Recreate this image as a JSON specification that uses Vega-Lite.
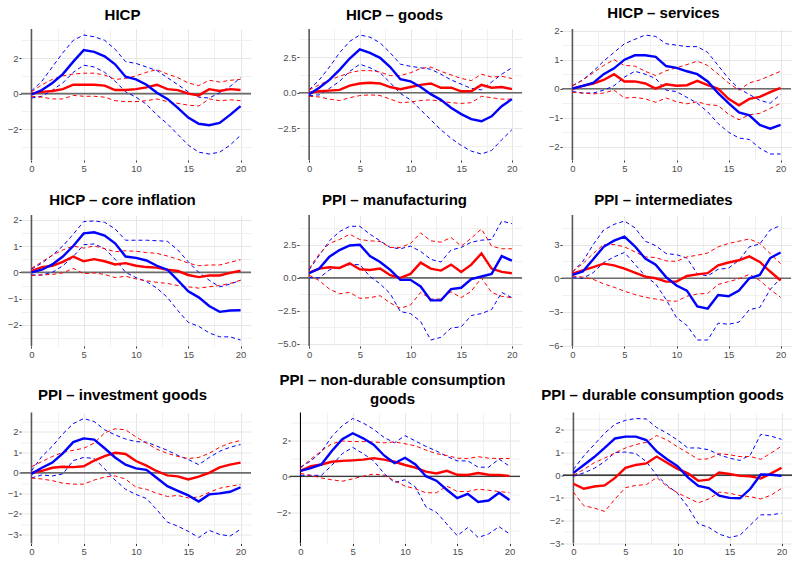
{
"$schema": "https://vega.github.io/schema/vega-lite/v6.json",
"background": "white",
"padding": {"left": 7, "right": 3, "top": 5, "bottom": 2},
"data": {"values": [
{"p":1,"h":0,"b":-0.05,"bl":-0.25,"bu":0.15,"r":0,"rl":-0.15,"ru":0.1},
{"p":1,"h":1,"b":0.2,"bl":-0.15,"bu":0.7,"r":0.1,"rl":-0.2,"ru":0.5},
{"p":1,"h":2,"b":0.6,"bl":0.2,"bu":1.5,"r":0.15,"rl":-0.3,"ru":0.8},
{"p":1,"h":3,"b":1.1,"bl":0.6,"bu":2.3,"r":0.25,"rl":-0.3,"ru":1.0},
{"p":1,"h":4,"b":1.8,"bl":1.2,"bu":3.0,"r":0.5,"rl":-0.1,"ru":1.1},
{"p":1,"h":5,"b":2.45,"bl":1.6,"bu":3.3,"r":0.5,"rl":-0.15,"ru":1.15},
{"p":1,"h":6,"b":2.35,"bl":1.5,"bu":3.2,"r":0.5,"rl":-0.15,"ru":1.15},
{"p":1,"h":7,"b":2.1,"bl":1.2,"bu":3.0,"r":0.45,"rl":-0.2,"ru":1.05},
{"p":1,"h":8,"b":1.65,"bl":0.7,"bu":2.5,"r":0.2,"rl":-0.4,"ru":0.8},
{"p":1,"h":9,"b":0.95,"bl":0.1,"bu":1.8,"r":0.2,"rl":-0.45,"ru":0.85},
{"p":1,"h":10,"b":0.8,"bl":-0.2,"bu":1.7,"r":0.25,"rl":-0.45,"ru":1.0},
{"p":1,"h":11,"b":0.5,"bl":-0.6,"bu":1.5,"r":0.35,"rl":-0.4,"ru":1.2},
{"p":1,"h":12,"b":0.05,"bl":-1.2,"bu":1.3,"r":0.5,"rl":-0.3,"ru":1.35},
{"p":1,"h":13,"b":-0.3,"bl":-1.7,"bu":0.9,"r":0.25,"rl":-0.45,"ru":1.1},
{"p":1,"h":14,"b":-0.8,"bl":-2.3,"bu":0.5,"r":0.2,"rl":-0.55,"ru":0.9},
{"p":1,"h":15,"b":-1.35,"bl":-2.9,"bu":0.1,"r":0.0,"rl":-0.65,"ru":0.6},
{"p":1,"h":16,"b":-1.7,"bl":-3.3,"bu":-0.2,"r":-0.1,"rl":-0.7,"ru":0.45},
{"p":1,"h":17,"b":-1.78,"bl":-3.4,"bu":-0.25,"r":0.25,"rl":-0.3,"ru":0.75},
{"p":1,"h":18,"b":-1.65,"bl":-3.3,"bu":0.05,"r":0.15,"rl":-0.4,"ru":0.65},
{"p":1,"h":19,"b":-1.2,"bl":-2.9,"bu":0.4,"r":0.25,"rl":-0.35,"ru":0.75},
{"p":1,"h":20,"b":-0.7,"bl":-2.35,"bu":0.9,"r":0.2,"rl":-0.4,"ru":0.8},
{"p":2,"h":0,"b":-0.1,"bl":-0.2,"bu":0.2,"r":0,"rl":-0.25,"ru":0.2},
{"p":2,"h":1,"b":0.35,"bl":-0.15,"bu":0.9,"r":0.1,"rl":-0.3,"ru":0.55},
{"p":2,"h":2,"b":0.9,"bl":0.3,"bu":1.8,"r":0.15,"rl":-0.45,"ru":0.9},
{"p":2,"h":3,"b":1.6,"bl":0.8,"bu":2.8,"r":0.2,"rl":-0.55,"ru":1.15},
{"p":2,"h":4,"b":2.4,"bl":1.5,"bu":3.6,"r":0.5,"rl":-0.35,"ru":1.4},
{"p":2,"h":5,"b":3.05,"bl":2.0,"bu":4.05,"r":0.65,"rl":-0.2,"ru":1.55},
{"p":2,"h":6,"b":2.8,"bl":1.75,"bu":3.9,"r":0.7,"rl":-0.15,"ru":1.55},
{"p":2,"h":7,"b":2.45,"bl":1.4,"bu":3.5,"r":0.65,"rl":-0.2,"ru":1.45},
{"p":2,"h":8,"b":1.8,"bl":0.7,"bu":2.8,"r":0.4,"rl":-0.45,"ru":1.2},
{"p":2,"h":9,"b":0.95,"bl":-0.05,"bu":2.0,"r":0.25,"rl":-0.7,"ru":1.2},
{"p":2,"h":10,"b":0.8,"bl":-0.5,"bu":1.85,"r":0.4,"rl":-0.65,"ru":1.4},
{"p":2,"h":11,"b":0.4,"bl":-1.2,"bu":1.75,"r":0.55,"rl":-0.55,"ru":1.7},
{"p":2,"h":12,"b":-0.1,"bl":-1.9,"bu":1.65,"r":0.65,"rl":-0.5,"ru":1.8},
{"p":2,"h":13,"b":-0.5,"bl":-2.6,"bu":1.3,"r":0.35,"rl":-0.6,"ru":1.5},
{"p":2,"h":14,"b":-1.05,"bl":-3.2,"bu":0.9,"r":0.35,"rl":-0.7,"ru":1.25},
{"p":2,"h":15,"b":-1.5,"bl":-3.7,"bu":0.6,"r":0.1,"rl":-0.75,"ru":1.0},
{"p":2,"h":16,"b":-1.85,"bl":-4.1,"bu":0.3,"r":0.1,"rl":-0.7,"ru":0.85},
{"p":2,"h":17,"b":-2.0,"bl":-4.3,"bu":0.2,"r":0.55,"rl":-0.25,"ru":1.3},
{"p":2,"h":18,"b":-1.65,"bl":-4.05,"bu":0.75,"r":0.35,"rl":-0.35,"ru":1.1},
{"p":2,"h":19,"b":-0.95,"bl":-3.3,"bu":1.3,"r":0.4,"rl":-0.45,"ru":1.15},
{"p":2,"h":20,"b":-0.45,"bl":-2.6,"bu":1.75,"r":0.25,"rl":-0.45,"ru":1.0},
{"p":3,"h":0,"b":0,"bl":-0.1,"bu":0.1,"r":0,"rl":-0.12,"ru":0.1},
{"p":3,"h":1,"b":0.1,"bl":-0.15,"bu":0.3,"r":0.1,"rl":-0.15,"ru":0.3},
{"p":3,"h":2,"b":0.2,"bl":-0.15,"bu":0.6,"r":0.18,"rl":-0.18,"ru":0.55},
{"p":3,"h":3,"b":0.5,"bl":-0.05,"bu":0.95,"r":0.3,"rl":-0.15,"ru":0.8},
{"p":3,"h":4,"b":0.7,"bl":0.1,"bu":1.25,"r":0.5,"rl":-0.05,"ru":1.0},
{"p":3,"h":5,"b":1.0,"bl":0.4,"bu":1.55,"r":0.25,"rl":-0.32,"ru":0.8},
{"p":3,"h":6,"b":1.15,"bl":0.6,"bu":1.7,"r":0.25,"rl":-0.3,"ru":0.78},
{"p":3,"h":7,"b":1.15,"bl":0.5,"bu":1.85,"r":0.18,"rl":-0.35,"ru":0.6},
{"p":3,"h":8,"b":1.1,"bl":0.35,"bu":1.8,"r":0.0,"rl":-0.47,"ru":0.45},
{"p":3,"h":9,"b":0.78,"bl":-0.05,"bu":1.55,"r":0.15,"rl":-0.32,"ru":0.62},
{"p":3,"h":10,"b":0.72,"bl":-0.1,"bu":1.5,"r":0.1,"rl":-0.45,"ru":0.72},
{"p":3,"h":11,"b":0.6,"bl":-0.3,"bu":1.45,"r":0.12,"rl":-0.52,"ru":0.83},
{"p":3,"h":12,"b":0.5,"bl":-0.5,"bu":1.45,"r":0.27,"rl":-0.45,"ru":0.95},
{"p":3,"h":13,"b":0.25,"bl":-0.8,"bu":1.25,"r":0.12,"rl":-0.55,"ru":0.8},
{"p":3,"h":14,"b":-0.15,"bl":-1.2,"bu":0.8,"r":0.0,"rl":-0.58,"ru":0.5},
{"p":3,"h":15,"b":-0.5,"bl":-1.5,"bu":0.35,"r":-0.35,"rl":-0.88,"ru":0.2},
{"p":3,"h":16,"b":-0.82,"bl":-1.7,"bu":0.0,"r":-0.57,"rl":-1.07,"ru":-0.05},
{"p":3,"h":17,"b":-0.92,"bl":-1.75,"bu":-0.2,"r":-0.35,"rl":-0.9,"ru":0.2},
{"p":3,"h":18,"b":-1.25,"bl":-2.05,"bu":-0.4,"r":-0.28,"rl":-0.85,"ru":0.3},
{"p":3,"h":19,"b":-1.38,"bl":-2.25,"bu":-0.5,"r":-0.12,"rl":-0.68,"ru":0.45},
{"p":3,"h":20,"b":-1.25,"bl":-2.25,"bu":-0.2,"r":0.03,"rl":-0.5,"ru":0.6},
{"p":4,"h":0,"b":0,"bl":-0.1,"bu":0.12,"r":0.05,"rl":-0.12,"ru":0.15},
{"p":4,"h":1,"b":0.1,"bl":-0.1,"bu":0.35,"r":0.2,"rl":-0.1,"ru":0.4},
{"p":4,"h":2,"b":0.3,"bl":0.0,"bu":0.65,"r":0.25,"rl":-0.08,"ru":0.65},
{"p":4,"h":3,"b":0.6,"bl":0.25,"bu":1.0,"r":0.4,"rl":-0.02,"ru":0.85},
{"p":4,"h":4,"b":1.0,"bl":0.6,"bu":1.45,"r":0.6,"rl":0.15,"ru":1.0},
{"p":4,"h":5,"b":1.48,"bl":1.05,"bu":1.93,"r":0.42,"rl":-0.05,"ru":0.92},
{"p":4,"h":6,"b":1.52,"bl":1.08,"bu":1.95,"r":0.5,"rl":-0.02,"ru":1.0},
{"p":4,"h":7,"b":1.4,"bl":0.9,"bu":1.9,"r":0.42,"rl":-0.08,"ru":0.9},
{"p":4,"h":8,"b":1.1,"bl":0.5,"bu":1.65,"r":0.3,"rl":-0.2,"ru":0.78},
{"p":4,"h":9,"b":0.6,"bl":0.0,"bu":1.22,"r":0.35,"rl":-0.15,"ru":0.82},
{"p":4,"h":10,"b":0.55,"bl":-0.2,"bu":1.22,"r":0.25,"rl":-0.25,"ru":0.8},
{"p":4,"h":11,"b":0.45,"bl":-0.35,"bu":1.22,"r":0.2,"rl":-0.32,"ru":0.75},
{"p":4,"h":12,"b":0.25,"bl":-0.6,"bu":1.2,"r":0.18,"rl":-0.38,"ru":0.72},
{"p":4,"h":13,"b":0.1,"bl":-0.95,"bu":1.18,"r":0.1,"rl":-0.42,"ru":0.62},
{"p":4,"h":14,"b":-0.3,"bl":-1.45,"bu":0.85,"r":0.05,"rl":-0.5,"ru":0.5},
{"p":4,"h":15,"b":-0.72,"bl":-1.9,"bu":0.4,"r":-0.1,"rl":-0.55,"ru":0.35},
{"p":4,"h":16,"b":-0.95,"bl":-2.05,"bu":0.0,"r":-0.18,"rl":-0.6,"ru":0.25},
{"p":4,"h":17,"b":-1.28,"bl":-2.3,"bu":-0.3,"r":-0.12,"rl":-0.55,"ru":0.28},
{"p":4,"h":18,"b":-1.5,"bl":-2.45,"bu":-0.55,"r":-0.12,"rl":-0.5,"ru":0.28},
{"p":4,"h":19,"b":-1.45,"bl":-2.45,"bu":-0.45,"r":-0.02,"rl":-0.42,"ru":0.38},
{"p":4,"h":20,"b":-1.44,"bl":-2.57,"bu":-0.3,"r":0.06,"rl":-0.3,"ru":0.48},
{"p":5,"h":0,"b":0.35,"bl":0.0,"bu":0.6,"r":0.4,"rl":0.2,"ru":0.7},
{"p":5,"h":1,"b":0.7,"bl":0.0,"bu":1.7,"r":0.7,"rl":-0.2,"ru":1.8},
{"p":5,"h":2,"b":1.6,"bl":0.6,"bu":2.8,"r":0.8,"rl":-0.85,"ru":2.6},
{"p":5,"h":3,"b":2.1,"bl":0.8,"bu":3.5,"r":0.75,"rl":-1.2,"ru":2.9},
{"p":5,"h":4,"b":2.45,"bl":1.0,"bu":3.9,"r":1.1,"rl":-1.1,"ru":3.3},
{"p":5,"h":5,"b":2.5,"bl":1.0,"bu":3.9,"r":0.65,"rl":-1.55,"ru":2.9},
{"p":5,"h":6,"b":1.65,"bl":0.1,"bu":3.3,"r":0.6,"rl":-1.5,"ru":2.8},
{"p":5,"h":7,"b":1.2,"bl":-0.45,"bu":2.8,"r":0.7,"rl":-1.35,"ru":2.75},
{"p":5,"h":8,"b":0.6,"bl":-1.2,"bu":2.3,"r":0.2,"rl":-1.9,"ru":2.3},
{"p":5,"h":9,"b":-0.15,"bl":-2.55,"bu":2.2,"r":0.0,"rl":-2.3,"ru":2.3},
{"p":5,"h":10,"b":-0.15,"bl":-2.7,"bu":2.4,"r":0.3,"rl":-2.05,"ru":2.6},
{"p":5,"h":11,"b":-0.65,"bl":-3.3,"bu":2.0,"r":1.15,"rl":-1.1,"ru":3.4},
{"p":5,"h":12,"b":-1.7,"bl":-4.7,"bu":1.4,"r":0.7,"rl":-1.6,"ru":2.8},
{"p":5,"h":13,"b":-1.7,"bl":-4.5,"bu":1.2,"r":0.55,"rl":-1.6,"ru":2.7},
{"p":5,"h":14,"b":-0.85,"bl":-3.8,"bu":2.1,"r":1.0,"rl":-1.05,"ru":3.05},
{"p":5,"h":15,"b":-0.75,"bl":-3.7,"bu":2.3,"r":0.45,"rl":-1.5,"ru":2.4},
{"p":5,"h":16,"b":-0.1,"bl":-2.85,"bu":2.7,"r":1.0,"rl":-1.0,"ru":3.0},
{"p":5,"h":17,"b":0.1,"bl":-2.7,"bu":2.85,"r":1.85,"rl":0.0,"ru":3.7},
{"p":5,"h":18,"b":0.3,"bl":-2.4,"bu":2.9,"r":0.7,"rl":-1.1,"ru":2.4},
{"p":5,"h":19,"b":1.65,"bl":-1.1,"bu":4.3,"r":0.45,"rl":-1.4,"ru":2.2},
{"p":5,"h":20,"b":1.3,"bl":-1.5,"bu":4.1,"r":0.35,"rl":-1.5,"ru":2.2},
{"p":6,"h":0,"b":0.3,"bl":0.05,"bu":0.55,"r":0.4,"rl":0.2,"ru":0.6},
{"p":6,"h":1,"b":0.6,"bl":0.0,"bu":1.5,"r":0.7,"rl":0.1,"ru":1.3},
{"p":6,"h":2,"b":1.7,"bl":0.5,"bu":3.0,"r":1.0,"rl":-0.1,"ru":2.2},
{"p":6,"h":3,"b":2.8,"bl":1.4,"bu":4.3,"r":1.3,"rl":-0.5,"ru":3.0},
{"p":6,"h":4,"b":3.35,"bl":1.9,"bu":4.8,"r":1.15,"rl":-0.8,"ru":3.0},
{"p":6,"h":5,"b":3.7,"bl":2.3,"bu":5.1,"r":0.85,"rl":-1.15,"ru":2.8},
{"p":6,"h":6,"b":2.85,"bl":1.25,"bu":4.5,"r":0.5,"rl":-1.45,"ru":2.35},
{"p":6,"h":7,"b":1.75,"bl":0.2,"bu":3.3,"r":0.15,"rl":-1.7,"ru":1.9},
{"p":6,"h":8,"b":1.2,"bl":-0.5,"bu":2.9,"r":0.0,"rl":-1.85,"ru":1.85},
{"p":6,"h":9,"b":0.1,"bl":-1.9,"bu":2.2,"r":-0.3,"rl":-2.0,"ru":1.55},
{"p":6,"h":10,"b":-0.65,"bl":-3.5,"bu":2.1,"r":-0.3,"rl":-2.05,"ru":1.5},
{"p":6,"h":11,"b":-1.1,"bl":-4.2,"bu":1.8,"r":0.2,"rl":-1.6,"ru":1.9},
{"p":6,"h":12,"b":-2.5,"bl":-5.5,"bu":0.4,"r":0.35,"rl":-1.4,"ru":2.05},
{"p":6,"h":13,"b":-2.7,"bl":-5.5,"bu":0.2,"r":0.45,"rl":-1.35,"ru":2.25},
{"p":6,"h":14,"b":-1.5,"bl":-4.0,"bu":0.8,"r":1.15,"rl":-0.55,"ru":2.8},
{"p":6,"h":15,"b":-1.6,"bl":-4.1,"bu":0.9,"r":1.4,"rl":-0.3,"ru":3.1},
{"p":6,"h":16,"b":-1.1,"bl":-3.9,"bu":1.6,"r":1.6,"rl":-0.05,"ru":3.3},
{"p":6,"h":17,"b":0.0,"bl":-2.8,"bu":2.8,"r":1.95,"rl":0.35,"ru":3.5},
{"p":6,"h":18,"b":0.3,"bl":-2.6,"bu":3.05,"r":1.45,"rl":-0.2,"ru":3.1},
{"p":6,"h":19,"b":1.8,"bl":-1.0,"bu":4.3,"r":0.6,"rl":-1.0,"ru":2.2},
{"p":6,"h":20,"b":2.3,"bl":0.0,"bu":4.7,"r":-0.2,"rl":-1.7,"ru":1.3},
{"p":7,"h":0,"b":-0.05,"bl":-0.25,"bu":0.1,"r":0.0,"rl":-0.25,"ru":0.3},
{"p":7,"h":1,"b":0.25,"bl":-0.1,"bu":0.8,"r":0.1,"rl":-0.3,"ru":0.55},
{"p":7,"h":2,"b":0.5,"bl":-0.15,"bu":1.3,"r":0.25,"rl":-0.38,"ru":0.8},
{"p":7,"h":3,"b":0.95,"bl":-0.05,"bu":1.9,"r":0.3,"rl":-0.5,"ru":1.0},
{"p":7,"h":4,"b":1.5,"bl":0.6,"bu":2.4,"r":0.28,"rl":-0.55,"ru":1.1},
{"p":7,"h":5,"b":1.68,"bl":0.75,"bu":2.65,"r":0.32,"rl":-0.55,"ru":1.2},
{"p":7,"h":6,"b":1.62,"bl":0.7,"bu":2.5,"r":0.6,"rl":-0.35,"ru":1.45},
{"p":7,"h":7,"b":1.2,"bl":0.2,"bu":2.1,"r":0.82,"rl":-0.2,"ru":1.95},
{"p":7,"h":8,"b":0.75,"bl":-0.35,"bu":1.85,"r":0.98,"rl":-0.15,"ru":2.15},
{"p":7,"h":9,"b":0.4,"bl":-0.8,"bu":1.65,"r":0.92,"rl":-0.3,"ru":2.1},
{"p":7,"h":10,"b":0.22,"bl":-1.05,"bu":1.52,"r":0.58,"rl":-0.7,"ru":1.75},
{"p":7,"h":11,"b":0.15,"bl":-1.25,"bu":1.5,"r":0.35,"rl":-0.8,"ru":1.45},
{"p":7,"h":12,"b":-0.25,"bl":-1.8,"bu":1.3,"r":0.08,"rl":-1.0,"ru":1.15},
{"p":7,"h":13,"b":-0.65,"bl":-2.4,"bu":1.1,"r":-0.12,"rl":-1.15,"ru":0.95},
{"p":7,"h":14,"b":-0.88,"bl":-2.6,"bu":0.85,"r":-0.17,"rl":-1.1,"ru":0.8},
{"p":7,"h":15,"b":-1.1,"bl":-2.85,"bu":0.65,"r":-0.32,"rl":-1.22,"ru":0.7},
{"p":7,"h":16,"b":-1.4,"bl":-3.15,"bu":0.4,"r":-0.18,"rl":-1.18,"ru":0.75},
{"p":7,"h":17,"b":-1.05,"bl":-2.8,"bu":0.75,"r":0.0,"rl":-0.95,"ru":0.95},
{"p":7,"h":18,"b":-1.0,"bl":-3.0,"bu":1.05,"r":0.27,"rl":-0.75,"ru":1.25},
{"p":7,"h":19,"b":-0.92,"bl":-3.08,"bu":1.25,"r":0.4,"rl":-0.65,"ru":1.45},
{"p":7,"h":20,"b":-0.7,"bl":-2.75,"bu":1.38,"r":0.5,"rl":-0.57,"ru":1.58},
{"p":8,"h":0,"b":0.3,"bl":0.05,"bu":0.5,"r":0.3,"rl":0.15,"ru":0.45},
{"p":8,"h":1,"b":0.45,"bl":0.05,"bu":0.85,"r":0.55,"rl":0.05,"ru":0.95},
{"p":8,"h":2,"b":0.65,"bl":0.05,"bu":1.35,"r":0.65,"rl":-0.1,"ru":1.4},
{"p":8,"h":3,"b":1.4,"bl":0.6,"bu":2.2,"r":0.8,"rl":-0.2,"ru":1.8},
{"p":8,"h":4,"b":2.05,"bl":1.25,"bu":2.8,"r":0.85,"rl":-0.28,"ru":1.95},
{"p":8,"h":5,"b":2.38,"bl":1.6,"bu":3.2,"r":0.88,"rl":-0.15,"ru":1.92},
{"p":8,"h":6,"b":2.1,"bl":1.25,"bu":2.95,"r":0.92,"rl":0.0,"ru":1.92},
{"p":8,"h":7,"b":1.75,"bl":0.85,"bu":2.6,"r":1.0,"rl":0.12,"ru":1.9},
{"p":8,"h":8,"b":1.15,"bl":0.15,"bu":2.15,"r":0.92,"rl":0.05,"ru":1.85},
{"p":8,"h":9,"b":0.72,"bl":-0.35,"bu":1.85,"r":0.8,"rl":-0.25,"ru":1.9},
{"p":8,"h":10,"b":1.02,"bl":-0.2,"bu":2.25,"r":0.62,"rl":-0.55,"ru":1.8},
{"p":8,"h":11,"b":0.65,"bl":-0.6,"bu":1.95,"r":0.48,"rl":-0.7,"ru":1.68},
{"p":8,"h":12,"b":0.0,"bl":-1.7,"bu":1.65,"r":0.25,"rl":-0.92,"ru":1.45},
{"p":8,"h":13,"b":-0.25,"bl":-2.0,"bu":1.4,"r":0.15,"rl":-0.92,"ru":1.25},
{"p":8,"h":14,"b":-0.75,"bl":-2.65,"bu":1.1,"r":0.3,"rl":-0.55,"ru":1.15},
{"p":8,"h":15,"b":-1.22,"bl":-3.3,"bu":0.85,"r":0.08,"rl":-0.85,"ru":1.0},
{"p":8,"h":16,"b":-0.98,"bl":-2.85,"bu":0.85,"r":0.07,"rl":-0.85,"ru":0.98},
{"p":8,"h":17,"b":-1.43,"bl":-3.4,"bu":0.5,"r":0.18,"rl":-0.72,"ru":1.08},
{"p":8,"h":18,"b":-1.35,"bl":-3.2,"bu":0.5,"r":0.08,"rl":-0.78,"ru":1.0},
{"p":8,"h":19,"b":-0.92,"bl":-2.8,"bu":0.95,"r":0.07,"rl":-0.85,"ru":0.98},
{"p":8,"h":20,"b":-1.32,"bl":-3.2,"bu":0.55,"r":0.02,"rl":-0.92,"ru":0.98},
{"p":9,"h":0,"b":0.1,"bl":-0.05,"bu":0.25,"r":-0.38,"rl":-0.75,"ru":0.0},
{"p":9,"h":1,"b":0.45,"bl":0.1,"bu":0.85,"r":-0.6,"rl":-1.35,"ru":0.25},
{"p":9,"h":2,"b":0.8,"bl":0.3,"bu":1.35,"r":-0.5,"rl":-1.45,"ru":0.55},
{"p":9,"h":3,"b":1.2,"bl":0.6,"bu":1.85,"r":-0.45,"rl":-1.6,"ru":0.75},
{"p":9,"h":4,"b":1.62,"bl":1.0,"bu":2.25,"r":-0.12,"rl":-1.05,"ru":0.98},
{"p":9,"h":5,"b":1.7,"bl":1.02,"bu":2.42,"r":0.32,"rl":-0.55,"ru":1.2},
{"p":9,"h":6,"b":1.7,"bl":0.95,"bu":2.5,"r":0.45,"rl":-0.45,"ru":1.35},
{"p":9,"h":7,"b":1.55,"bl":0.6,"bu":2.48,"r":0.52,"rl":-0.42,"ru":1.45},
{"p":9,"h":8,"b":1.05,"bl":0.0,"bu":2.1,"r":0.82,"rl":-0.1,"ru":1.75},
{"p":9,"h":9,"b":0.7,"bl":-0.45,"bu":1.85,"r":0.55,"rl":-0.5,"ru":1.55},
{"p":9,"h":10,"b":0.4,"bl":-0.8,"bu":1.55,"r":0.28,"rl":-0.78,"ru":1.25},
{"p":9,"h":11,"b":-0.1,"bl":-1.4,"bu":1.2,"r":0.08,"rl":-1.0,"ru":0.98},
{"p":9,"h":12,"b":-0.47,"bl":-2.15,"bu":1.2,"r":-0.25,"rl":-1.22,"ru":0.7},
{"p":9,"h":13,"b":-0.57,"bl":-2.3,"bu":1.12,"r":-0.2,"rl":-1.05,"ru":0.72},
{"p":9,"h":14,"b":-0.9,"bl":-2.6,"bu":0.9,"r":0.12,"rl":-0.75,"ru":0.95},
{"p":9,"h":15,"b":-1.0,"bl":-2.75,"bu":0.75,"r":0.05,"rl":-0.8,"ru":0.9},
{"p":9,"h":16,"b":-1.02,"bl":-2.65,"bu":0.65,"r":-0.03,"rl":-0.9,"ru":0.82},
{"p":9,"h":17,"b":-0.6,"bl":-2.2,"bu":0.9,"r":-0.05,"rl":-0.95,"ru":0.82},
{"p":9,"h":18,"b":0.03,"bl":-1.75,"bu":1.8,"r":-0.15,"rl":-1.05,"ru":0.7},
{"p":9,"h":19,"b":0.02,"bl":-1.75,"bu":1.72,"r":0.08,"rl":-0.88,"ru":0.98},
{"p":9,"h":20,"b":-0.03,"bl":-1.68,"bu":1.58,"r":0.33,"rl":-0.58,"ru":1.28}
]},
"spacing": 20,
"vconcat": [
{"hconcat": [
{"title": {"text": "HICP", "dx": -13.5, "offset": 5}, "width": 230, "height": 131, "transform": [{"filter": "datum.p == 1"}],
 "layer": [
  {"transform": [{"filter": "datum.h == 0"}], "mark": {"type": "rule", "color": "#595959", "strokeWidth": 1.6}, "encoding": {"x": {"datum": 0, "type": "quantitative"}}},
  {"transform": [{"filter": "datum.h == 0"}], "mark": {"type": "rule", "color": "#6B6B6B", "strokeWidth": 1.6}, "encoding": {"y": {"datum": 0, "type": "quantitative"}}},
  {"transform": [{"fold": ["bl","bu","rl","ru","r","b"], "as": ["s","v"]}],
   "encoding": {
    "x": {"field": "h", "type": "quantitative", "scale": {"domain": [-1,21], "nice": false, "zero": false}, "axis": {"title": null, "grid": true, "tickCount": 100, "labelOverlap": false, "values": [0,2.5,5,7.5,10,12.5,15,17.5,20], "format": ".0f", "labelExpr": "datum.value % 5 == 0 ? datum.label : ''", "tickOpacity": {"condition": {"test": "datum.value % 5 == 0", "value": 1}, "value": 0}, "gridColor": {"condition": {"test": "datum.value % 5 == 0", "value": "#E6E6E6"}, "value": "#F0F0F0"}}},
    "y": {"field": "v", "type": "quantitative", "scale": {"zero": false, "nice": false, "padding": 6}, "axis": {"title": null, "grid": true, "tickCount": 100, "labelOverlap": false, "values": [-3,-2,-1,0,1,2,3], "format": ".0f", "labelExpr": "abs(datum.value % 2) < 0.001 ? datum.label : ''", "tickOpacity": {"condition": {"test": "abs(datum.value % 2) < 0.001", "value": 1}, "value": 0}, "gridColor": {"condition": {"test": "abs(datum.value % 2) < 0.001", "value": "#E6E6E6"}, "value": "#F0F0F0"}}},
    "color": {"field": "s", "type": "nominal", "scale": {"domain": ["b","bl","bu","r","rl","ru"], "range": ["#0000FF","#0000FF","#0000FF","#FF0000","#FF0000","#FF0000"]}, "legend": null}
   },
   "layer": [
    {"transform": [{"filter": "length(datum.s) == 2"}], "mark": {"type": "line", "strokeWidth": 1, "strokeDash": [4,3]}},
    {"transform": [{"filter": "length(datum.s) == 1"}], "mark": {"type": "line", "strokeWidth": 2.4}}
   ]}
 ]},
{"title": {"text": "HICP – goods", "dx": -16, "offset": 5}, "width": 223, "height": 131, "transform": [{"filter": "datum.p == 2"}],
 "layer": [
  {"transform": [{"filter": "datum.h == 0"}], "mark": {"type": "rule", "color": "#595959", "strokeWidth": 1.6}, "encoding": {"x": {"datum": 0, "type": "quantitative"}}},
  {"transform": [{"filter": "datum.h == 0"}], "mark": {"type": "rule", "color": "#6B6B6B", "strokeWidth": 1.6}, "encoding": {"y": {"datum": 0, "type": "quantitative"}}},
  {"transform": [{"fold": ["bl","bu","rl","ru","r","b"], "as": ["s","v"]}],
   "encoding": {
    "x": {"field": "h", "type": "quantitative", "scale": {"domain": [-1,21], "nice": false, "zero": false}, "axis": {"title": null, "grid": true, "tickCount": 100, "labelOverlap": false, "values": [0,2.5,5,7.5,10,12.5,15,17.5,20], "format": ".0f", "labelExpr": "datum.value % 5 == 0 ? datum.label : ''", "tickOpacity": {"condition": {"test": "datum.value % 5 == 0", "value": 1}, "value": 0}, "gridColor": {"condition": {"test": "datum.value % 5 == 0", "value": "#E6E6E6"}, "value": "#F0F0F0"}}},
    "y": {"field": "v", "type": "quantitative", "scale": {"zero": false, "nice": false, "padding": 6}, "axis": {"title": null, "grid": true, "tickCount": 100, "labelOverlap": false, "values": [-3.75,-2.5,-1.25,0,1.25,2.5,3.75], "format": ".1f", "labelExpr": "abs(datum.value % 2.5) < 0.001 ? datum.label : ''", "tickOpacity": {"condition": {"test": "abs(datum.value % 2.5) < 0.001", "value": 1}, "value": 0}, "gridColor": {"condition": {"test": "abs(datum.value % 2.5) < 0.001", "value": "#E6E6E6"}, "value": "#F0F0F0"}}},
    "color": {"field": "s", "type": "nominal", "scale": {"domain": ["b","bl","bu","r","rl","ru"], "range": ["#0000FF","#0000FF","#0000FF","#FF0000","#FF0000","#FF0000"]}, "legend": null}
   },
   "layer": [
    {"transform": [{"filter": "length(datum.s) == 2"}], "mark": {"type": "line", "strokeWidth": 1, "strokeDash": [4,3]}},
    {"transform": [{"filter": "length(datum.s) == 1"}], "mark": {"type": "line", "strokeWidth": 2.4}}
   ]}
 ]},
{"title": {"text": "HICP – services", "dx": -13, "offset": 5}, "width": 229, "height": 131, "transform": [{"filter": "datum.p == 3"}],
 "layer": [
  {"transform": [{"filter": "datum.h == 0"}], "mark": {"type": "rule", "color": "#595959", "strokeWidth": 1.6}, "encoding": {"x": {"datum": 0, "type": "quantitative"}}},
  {"transform": [{"filter": "datum.h == 0"}], "mark": {"type": "rule", "color": "#6B6B6B", "strokeWidth": 1.6}, "encoding": {"y": {"datum": 0, "type": "quantitative"}}},
  {"transform": [{"fold": ["bl","bu","rl","ru","r","b"], "as": ["s","v"]}],
   "encoding": {
    "x": {"field": "h", "type": "quantitative", "scale": {"domain": [-1,21], "nice": false, "zero": false}, "axis": {"title": null, "grid": true, "tickCount": 100, "labelOverlap": false, "values": [0,2.5,5,7.5,10,12.5,15,17.5,20], "format": ".0f", "labelExpr": "datum.value % 5 == 0 ? datum.label : ''", "tickOpacity": {"condition": {"test": "datum.value % 5 == 0", "value": 1}, "value": 0}, "gridColor": {"condition": {"test": "datum.value % 5 == 0", "value": "#E6E6E6"}, "value": "#F0F0F0"}}},
    "y": {"field": "v", "type": "quantitative", "scale": {"zero": false, "nice": false, "padding": 6}, "axis": {"title": null, "grid": true, "tickCount": 100, "labelOverlap": false, "values": [-2,-1.5,-1,-0.5,0,0.5,1,1.5,2], "format": ".0f", "labelExpr": "abs(datum.value % 1) < 0.001 ? datum.label : ''", "tickOpacity": {"condition": {"test": "abs(datum.value % 1) < 0.001", "value": 1}, "value": 0}, "gridColor": {"condition": {"test": "abs(datum.value % 1) < 0.001", "value": "#E6E6E6"}, "value": "#F0F0F0"}}},
    "color": {"field": "s", "type": "nominal", "scale": {"domain": ["b","bl","bu","r","rl","ru"], "range": ["#0000FF","#0000FF","#0000FF","#FF0000","#FF0000","#FF0000"]}, "legend": null}
   },
   "layer": [
    {"transform": [{"filter": "length(datum.s) == 2"}], "mark": {"type": "line", "strokeWidth": 1, "strokeDash": [4,3]}},
    {"transform": [{"filter": "length(datum.s) == 1"}], "mark": {"type": "line", "strokeWidth": 2.4}}
   ]}
 ]}
], "spacing": 25},
{"spacing": 13.5, "vconcat": [
{"hconcat": [
{"title": {"text": "HICP – core inflation", "dx": -13.5}, "width": 230, "height": 131, "transform": [{"filter": "datum.p == 4"}],
 "layer": [
  {"transform": [{"filter": "datum.h == 0"}], "mark": {"type": "rule", "color": "#595959", "strokeWidth": 1.6}, "encoding": {"x": {"datum": 0, "type": "quantitative"}}},
  {"transform": [{"filter": "datum.h == 0"}], "mark": {"type": "rule", "color": "#6B6B6B", "strokeWidth": 1.6}, "encoding": {"y": {"datum": 0, "type": "quantitative"}}},
  {"transform": [{"fold": ["bl","bu","rl","ru","r","b"], "as": ["s","v"]}],
   "encoding": {
    "x": {"field": "h", "type": "quantitative", "scale": {"domain": [-1,21], "nice": false, "zero": false}, "axis": {"title": null, "grid": true, "tickCount": 100, "labelOverlap": false, "values": [0,2.5,5,7.5,10,12.5,15,17.5,20], "format": ".0f", "labelExpr": "datum.value % 5 == 0 ? datum.label : ''", "tickOpacity": {"condition": {"test": "datum.value % 5 == 0", "value": 1}, "value": 0}, "gridColor": {"condition": {"test": "datum.value % 5 == 0", "value": "#E6E6E6"}, "value": "#F0F0F0"}}},
    "y": {"field": "v", "type": "quantitative", "scale": {"zero": false, "nice": false, "padding": 6}, "axis": {"title": null, "grid": true, "tickCount": 100, "labelOverlap": false, "values": [-2.5,-2,-1.5,-1,-0.5,0,0.5,1,1.5,2], "format": ".0f", "labelExpr": "abs(datum.value % 1) < 0.001 ? datum.label : ''", "tickOpacity": {"condition": {"test": "abs(datum.value % 1) < 0.001", "value": 1}, "value": 0}, "gridColor": {"condition": {"test": "abs(datum.value % 1) < 0.001", "value": "#E6E6E6"}, "value": "#F0F0F0"}}},
    "color": {"field": "s", "type": "nominal", "scale": {"domain": ["b","bl","bu","r","rl","ru"], "range": ["#0000FF","#0000FF","#0000FF","#FF0000","#FF0000","#FF0000"]}, "legend": null}
   },
   "layer": [
    {"transform": [{"filter": "length(datum.s) == 2"}], "mark": {"type": "line", "strokeWidth": 1, "strokeDash": [4,3]}},
    {"transform": [{"filter": "length(datum.s) == 1"}], "mark": {"type": "line", "strokeWidth": 2.4}}
   ]}
 ]},
{"title": {"text": "PPI – manufacturing", "dx": -16}, "width": 223, "height": 131, "transform": [{"filter": "datum.p == 5"}],
 "layer": [
  {"transform": [{"filter": "datum.h == 0"}], "mark": {"type": "rule", "color": "#595959", "strokeWidth": 1.6}, "encoding": {"x": {"datum": 0, "type": "quantitative"}}},
  {"transform": [{"filter": "datum.h == 0"}], "mark": {"type": "rule", "color": "#6B6B6B", "strokeWidth": 1.6}, "encoding": {"y": {"datum": 0, "type": "quantitative"}}},
  {"transform": [{"fold": ["bl","bu","rl","ru","r","b"], "as": ["s","v"]}],
   "encoding": {
    "x": {"field": "h", "type": "quantitative", "scale": {"domain": [-1,21], "nice": false, "zero": false}, "axis": {"title": null, "grid": true, "tickCount": 100, "labelOverlap": false, "values": [0,2.5,5,7.5,10,12.5,15,17.5,20], "format": ".0f", "labelExpr": "datum.value % 5 == 0 ? datum.label : ''", "tickOpacity": {"condition": {"test": "datum.value % 5 == 0", "value": 1}, "value": 0}, "gridColor": {"condition": {"test": "datum.value % 5 == 0", "value": "#E6E6E6"}, "value": "#F0F0F0"}}},
    "y": {"field": "v", "type": "quantitative", "scale": {"zero": false, "nice": false, "padding": 6}, "axis": {"title": null, "grid": true, "tickCount": 100, "labelOverlap": false, "values": [-5,-3.75,-2.5,-1.25,0,1.25,2.5,3.75], "format": ".1f", "labelExpr": "abs(datum.value % 2.5) < 0.001 ? datum.label : ''", "tickOpacity": {"condition": {"test": "abs(datum.value % 2.5) < 0.001", "value": 1}, "value": 0}, "gridColor": {"condition": {"test": "abs(datum.value % 2.5) < 0.001", "value": "#E6E6E6"}, "value": "#F0F0F0"}}},
    "color": {"field": "s", "type": "nominal", "scale": {"domain": ["b","bl","bu","r","rl","ru"], "range": ["#0000FF","#0000FF","#0000FF","#FF0000","#FF0000","#FF0000"]}, "legend": null}
   },
   "layer": [
    {"transform": [{"filter": "length(datum.s) == 2"}], "mark": {"type": "line", "strokeWidth": 1, "strokeDash": [4,3]}},
    {"transform": [{"filter": "length(datum.s) == 1"}], "mark": {"type": "line", "strokeWidth": 2.4}}
   ]}
 ]},
{"title": {"text": "PPI – intermediates", "dx": -13}, "width": 229, "height": 131, "transform": [{"filter": "datum.p == 6"}],
 "layer": [
  {"transform": [{"filter": "datum.h == 0"}], "mark": {"type": "rule", "color": "#595959", "strokeWidth": 1.6}, "encoding": {"x": {"datum": 0, "type": "quantitative"}}},
  {"transform": [{"filter": "datum.h == 0"}], "mark": {"type": "rule", "color": "#6B6B6B", "strokeWidth": 1.6}, "encoding": {"y": {"datum": 0, "type": "quantitative"}}},
  {"transform": [{"fold": ["bl","bu","rl","ru","r","b"], "as": ["s","v"]}],
   "encoding": {
    "x": {"field": "h", "type": "quantitative", "scale": {"domain": [-1,21], "nice": false, "zero": false}, "axis": {"title": null, "grid": true, "tickCount": 100, "labelOverlap": false, "values": [0,2.5,5,7.5,10,12.5,15,17.5,20], "format": ".0f", "labelExpr": "datum.value % 5 == 0 ? datum.label : ''", "tickOpacity": {"condition": {"test": "datum.value % 5 == 0", "value": 1}, "value": 0}, "gridColor": {"condition": {"test": "datum.value % 5 == 0", "value": "#E6E6E6"}, "value": "#F0F0F0"}}},
    "y": {"field": "v", "type": "quantitative", "scale": {"zero": false, "nice": false, "padding": 6}, "axis": {"title": null, "grid": true, "tickCount": 100, "labelOverlap": false, "values": [-6,-4.5,-3,-1.5,0,1.5,3,4.5], "format": ".0f", "labelExpr": "abs(datum.value % 3) < 0.001 ? datum.label : ''", "tickOpacity": {"condition": {"test": "abs(datum.value % 3) < 0.001", "value": 1}, "value": 0}, "gridColor": {"condition": {"test": "abs(datum.value % 3) < 0.001", "value": "#E6E6E6"}, "value": "#F0F0F0"}}},
    "color": {"field": "s", "type": "nominal", "scale": {"domain": ["b","bl","bu","r","rl","ru"], "range": ["#0000FF","#0000FF","#0000FF","#FF0000","#FF0000","#FF0000"]}, "legend": null}
   },
   "layer": [
    {"transform": [{"filter": "length(datum.s) == 2"}], "mark": {"type": "line", "strokeWidth": 1, "strokeDash": [4,3]}},
    {"transform": [{"filter": "length(datum.s) == 1"}], "mark": {"type": "line", "strokeWidth": 2.4}}
   ]}
 ]}
], "spacing": 25},
{"hconcat": [
{"title": {"text": "PPI – investment goods", "offset": 9, "dx": -13.5}, "width": 230, "height": 131, "transform": [{"filter": "datum.p == 7"}],
 "layer": [
  {"transform": [{"filter": "datum.h == 0"}], "mark": {"type": "rule", "color": "#595959", "strokeWidth": 1.6}, "encoding": {"x": {"datum": 0, "type": "quantitative"}}},
  {"transform": [{"filter": "datum.h == 0"}], "mark": {"type": "rule", "color": "#6B6B6B", "strokeWidth": 1.6}, "encoding": {"y": {"datum": 0, "type": "quantitative"}}},
  {"transform": [{"fold": ["bl","bu","rl","ru","r","b"], "as": ["s","v"]}],
   "encoding": {
    "x": {"field": "h", "type": "quantitative", "scale": {"domain": [-1,21], "nice": false, "zero": false}, "axis": {"title": null, "grid": true, "tickCount": 100, "labelOverlap": false, "values": [0,2.5,5,7.5,10,12.5,15,17.5,20], "format": ".0f", "labelExpr": "datum.value % 5 == 0 ? datum.label : ''", "tickOpacity": {"condition": {"test": "datum.value % 5 == 0", "value": 1}, "value": 0}, "gridColor": {"condition": {"test": "datum.value % 5 == 0", "value": "#E6E6E6"}, "value": "#F0F0F0"}}},
    "y": {"field": "v", "type": "quantitative", "scale": {"zero": false, "nice": false, "padding": 6}, "axis": {"title": null, "grid": true, "tickCount": 100, "labelOverlap": false, "values": [-3,-2.5,-2,-1.5,-1,-0.5,0,0.5,1,1.5,2,2.5], "format": ".0f", "labelExpr": "abs(datum.value % 1) < 0.001 ? datum.label : ''", "tickOpacity": {"condition": {"test": "abs(datum.value % 1) < 0.001", "value": 1}, "value": 0}, "gridColor": {"condition": {"test": "abs(datum.value % 1) < 0.001", "value": "#E6E6E6"}, "value": "#F0F0F0"}}},
    "color": {"field": "s", "type": "nominal", "scale": {"domain": ["b","bl","bu","r","rl","ru"], "range": ["#0000FF","#0000FF","#0000FF","#FF0000","#FF0000","#FF0000"]}, "legend": null}
   },
   "layer": [
    {"transform": [{"filter": "length(datum.s) == 2"}], "mark": {"type": "line", "strokeWidth": 1, "strokeDash": [4,3]}},
    {"transform": [{"filter": "length(datum.s) == 1"}], "mark": {"type": "line", "strokeWidth": 2.4}}
   ]}
 ]},
{"spacing": 20, "hconcat": [
{"title": {"text": ["PPI – non-durable consumption", "goods"], "offset": 5, "dx": -12.5}, "width": 230, "height": 131, "transform": [{"filter": "datum.p == 8"}],
 "layer": [
  {"transform": [{"filter": "datum.h == 0"}], "mark": {"type": "rule", "color": "#000000", "strokeWidth": 1.1}, "encoding": {"x": {"datum": 0, "type": "quantitative"}}},
  {"transform": [{"filter": "datum.h == 0"}], "mark": {"type": "rule", "color": "#000000", "strokeWidth": 1.1}, "encoding": {"y": {"datum": 0, "type": "quantitative"}}},
  {"transform": [{"fold": ["bl","bu","rl","ru","r","b"], "as": ["s","v"]}],
   "encoding": {
    "x": {"field": "h", "type": "quantitative", "scale": {"domain": [-1,21], "nice": false, "zero": false}, "axis": {"title": null, "grid": true, "tickCount": 100, "labelOverlap": false, "values": [0,2.5,5,7.5,10,12.5,15,17.5,20], "format": ".0f", "labelExpr": "datum.value % 5 == 0 ? datum.label : ''", "tickOpacity": {"condition": {"test": "datum.value % 5 == 0", "value": 1}, "value": 0}, "gridColor": {"condition": {"test": "datum.value % 5 == 0", "value": "#E6E6E6"}, "value": "#F0F0F0"}}},
    "y": {"field": "v", "type": "quantitative", "scale": {"zero": false, "nice": false, "padding": 6}, "axis": {"title": null, "grid": true, "tickCount": 100, "labelOverlap": false, "values": [-3,-2,-1,0,1,2,3], "format": ".0f", "labelExpr": "abs(datum.value % 2) < 0.001 ? datum.label : ''", "tickOpacity": {"condition": {"test": "abs(datum.value % 2) < 0.001", "value": 1}, "value": 0}, "gridColor": {"condition": {"test": "abs(datum.value % 2) < 0.001", "value": "#E6E6E6"}, "value": "#F0F0F0"}}},
    "color": {"field": "s", "type": "nominal", "scale": {"domain": ["b","bl","bu","r","rl","ru"], "range": ["#0000FF","#0000FF","#0000FF","#FF0000","#FF0000","#FF0000"]}, "legend": null}
   },
   "layer": [
    {"transform": [{"filter": "length(datum.s) == 2"}], "mark": {"type": "line", "strokeWidth": 1, "strokeDash": [4,3]}},
    {"transform": [{"filter": "length(datum.s) == 1"}], "mark": {"type": "line", "strokeWidth": 2.4}}
   ]}
 ]},
{"title": {"text": "PPI – durable consumption goods", "offset": 9, "dx": -15}, "width": 229, "height": 131, "transform": [{"filter": "datum.p == 9"}],
 "layer": [
  {"transform": [{"filter": "datum.h == 0"}], "mark": {"type": "rule", "color": "#595959", "strokeWidth": 1.6}, "encoding": {"x": {"datum": 0, "type": "quantitative"}}},
  {"transform": [{"filter": "datum.h == 0"}], "mark": {"type": "rule", "color": "#000000", "strokeWidth": 1.1}, "encoding": {"y": {"datum": 0, "type": "quantitative"}}},
  {"transform": [{"fold": ["bl","bu","rl","ru","r","b"], "as": ["s","v"]}],
   "encoding": {
    "x": {"field": "h", "type": "quantitative", "scale": {"domain": [-1,21], "nice": false, "zero": false}, "axis": {"title": null, "grid": true, "tickCount": 100, "labelOverlap": false, "values": [0,2.5,5,7.5,10,12.5,15,17.5,20], "format": ".0f", "labelExpr": "datum.value % 5 == 0 ? datum.label : ''", "tickOpacity": {"condition": {"test": "datum.value % 5 == 0", "value": 1}, "value": 0}, "gridColor": {"condition": {"test": "datum.value % 5 == 0", "value": "#E6E6E6"}, "value": "#F0F0F0"}}},
    "y": {"field": "v", "type": "quantitative", "scale": {"zero": false, "nice": false, "padding": 6}, "axis": {"title": null, "grid": true, "tickCount": 100, "labelOverlap": false, "values": [-3,-2.5,-2,-1.5,-1,-0.5,0,0.5,1,1.5,2,2.5], "format": ".0f", "labelExpr": "abs(datum.value % 1) < 0.001 ? datum.label : ''", "tickOpacity": {"condition": {"test": "abs(datum.value % 1) < 0.001", "value": 1}, "value": 0}, "gridColor": {"condition": {"test": "abs(datum.value % 1) < 0.001", "value": "#E6E6E6"}, "value": "#F0F0F0"}}},
    "color": {"field": "s", "type": "nominal", "scale": {"domain": ["b","bl","bu","r","rl","ru"], "range": ["#0000FF","#0000FF","#0000FF","#FF0000","#FF0000","#FF0000"]}, "legend": null}
   },
   "layer": [
    {"transform": [{"filter": "length(datum.s) == 2"}], "mark": {"type": "line", "strokeWidth": 1, "strokeDash": [4,3]}},
    {"transform": [{"filter": "length(datum.s) == 1"}], "mark": {"type": "line", "strokeWidth": 2.4}}
   ]}
 ]}
]}
], "spacing": 24}
]}
],
"config": {
 "view": {"stroke": null},
 "axis": {"domain": false, "grid": true, "gridWidth": 1, "labelColor": "#4D4D4D", "labelFont": "Liberation Sans", "labelFontSize": 9.5, "tickColor": "#333333", "tickSize": 2, "labelPadding": 1},
 "title": {"font": "Liberation Sans", "fontSize": 15, "fontWeight": "bold", "color": "#000000", "anchor": "middle", "frame": "group", "offset": 6, "lineHeight": 19}
}
}
